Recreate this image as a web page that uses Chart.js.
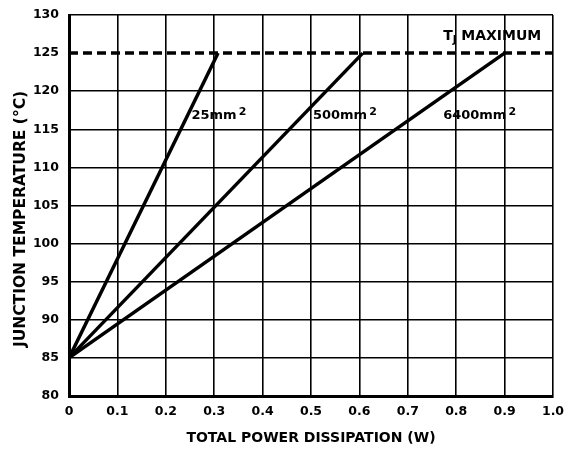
<!DOCTYPE html>
<html>
<head>
<meta charset="utf-8">
<script src="https://cdn.jsdelivr.net/npm/chart.js@4"></script>
<style>
  html, body { margin: 0; padding: 0; background: #fff; }
  #wrap { width: 568px; height: 451px; }
</style>
</head>
<body>
<div id="wrap"><canvas id="chart" width="568" height="451"></canvas></div>
<script>
// data
const startPower = 0;
const startTemp = 85;
const maxPower = [0.308, 0.607, 0.900];   // W where each curve hits TJ max
const tjMax = 125;
const areaLabels = ['25mm', '500mm', '6400mm'];
const labelPos = [[0.253, 116.8], [0.504, 116.8], [0.773, 116.8]];
const xTicks = [0, 0.1, 0.2, 0.3, 0.4, 0.5, 0.6, 0.7, 0.8, 0.9, 1.0];
const yTicks = [80, 85, 90, 95, 100, 105, 110, 115, 120, 125, 130];

const FONT = '"DejaVu Sans", sans-serif';

var datasets = maxPower.map(function (p) {
    return {
        data: [{ x: startPower, y: startTemp }, { x: p, y: tjMax }],
        borderColor: '#000',
        borderWidth: 3.5,
        pointRadius: 0
    };
});
datasets.push({
    data: [{ x: xTicks[0], y: tjMax }, { x: xTicks[xTicks.length - 1], y: tjMax }],
    borderColor: '#000',
    borderWidth: 3.5,
    borderDash: [9, 5],
    pointRadius: 0
});

// text annotations drawn at data coordinates
var labelsPlugin = {
    id: 'curveLabels',
    afterDatasetsDraw: function (chart) {
        var ctx = chart.ctx;
        var xs = chart.scales.x, ys = chart.scales.y;
        ctx.save();
        ctx.fillStyle = '#000';
        ctx.textBaseline = 'middle';
        ctx.textAlign = 'left';
        areaLabels.forEach(function (t, i) {
            var px = xs.getPixelForValue(labelPos[i][0]);
            var py = ys.getPixelForValue(labelPos[i][1]);
            ctx.font = 'bold 13px ' + FONT;
            ctx.fillText(t, px, py);
            var w = ctx.measureText(t).width;
            ctx.font = 'bold 11px ' + FONT;
            ctx.fillText('2', px + w + 2, py - 3);
        });
        // TJ MAXIMUM
        var tx = xs.getPixelForValue(0.773);
        var ty = ys.getPixelForValue(127.2);
        ctx.font = 'bold 14px ' + FONT;
        ctx.fillText('T', tx, ty);
        var tw = ctx.measureText('T').width;
        ctx.font = 'bold 10px ' + FONT;
        ctx.fillText('J', tx + tw, ty + 4);
        var jw = ctx.measureText('J').width;
        ctx.font = 'bold 14px ' + FONT;
        ctx.fillText(' MAXIMUM', tx + tw + jw, ty);
        ctx.restore();
    }
};

var ctx = document.getElementById('chart').getContext('2d');
var chart = new Chart(ctx, {
    type: 'line',
    data: { datasets: datasets },
    options: {
        responsive: false,
        animation: false,
        layout: { padding: { top: 15, right: 15, left: 0, bottom: 0 } },
        plugins: { legend: { display: false }, tooltip: { enabled: false } },
        scales: {
            x: {
                type: 'linear',
                min: 0, max: 1.0,
                afterFit: function (s) {
                    s.height = 55;
                    s.paddingLeft = 0; s.paddingRight = 0;
                },
                afterBuildTicks: function (s) { s.ticks = xTicks.map(function (v) { return { value: v }; }); },
                ticks: {
                    color: '#000',
                    font: { family: FONT, size: 12.5, weight: 'bold' },
                    padding: 8,
                    maxRotation: 0,
                    callback: function (v) { return v === 0 ? '0' : v.toFixed(1); }
                },
                grid: { color: '#000', lineWidth: 1.6, drawTicks: false },
                border: { color: '#000', width: 3 },
                title: {
                    display: true,
                    text: 'TOTAL POWER DISSIPATION (W)',
                    color: '#000',
                    font: { family: FONT, size: 14, weight: 'bold' },
                    padding: { top: 0, bottom: 4 }
                }
            },
            y: {
                type: 'linear',
                min: 80, max: 130,
                afterFit: function (s) {
                    s.width = 69;
                    s.paddingTop = 0; s.paddingBottom = 0;
                },
                afterBuildTicks: function (s) { s.ticks = yTicks.map(function (v) { return { value: v }; }); },
                ticks: {
                    color: '#000',
                    font: { family: FONT, size: 12.5, weight: 'bold' },
                    padding: 10
                },
                grid: {
                    // the TJ max row is only the dashed line
                    color: function (c) { return c.tick && c.tick.value === tjMax ? 'rgba(0,0,0,0)' : '#000'; },
                    lineWidth: 1.6,
                    drawTicks: false
                },
                border: { color: '#000', width: 3 },
                title: {
                    display: true,
                    // trailing spaces push the visible text a bit down, as in the original
                    text: 'JUNCTION TEMPERATURE (°C)     ',
                    color: '#000',
                    font: { family: FONT, size: 15.5, weight: 'bold' },
                    padding: { top: 12, bottom: 0 }
                }
            }
        }
    },
    plugins: [labelsPlugin]
});
</script>
</body>
</html>
